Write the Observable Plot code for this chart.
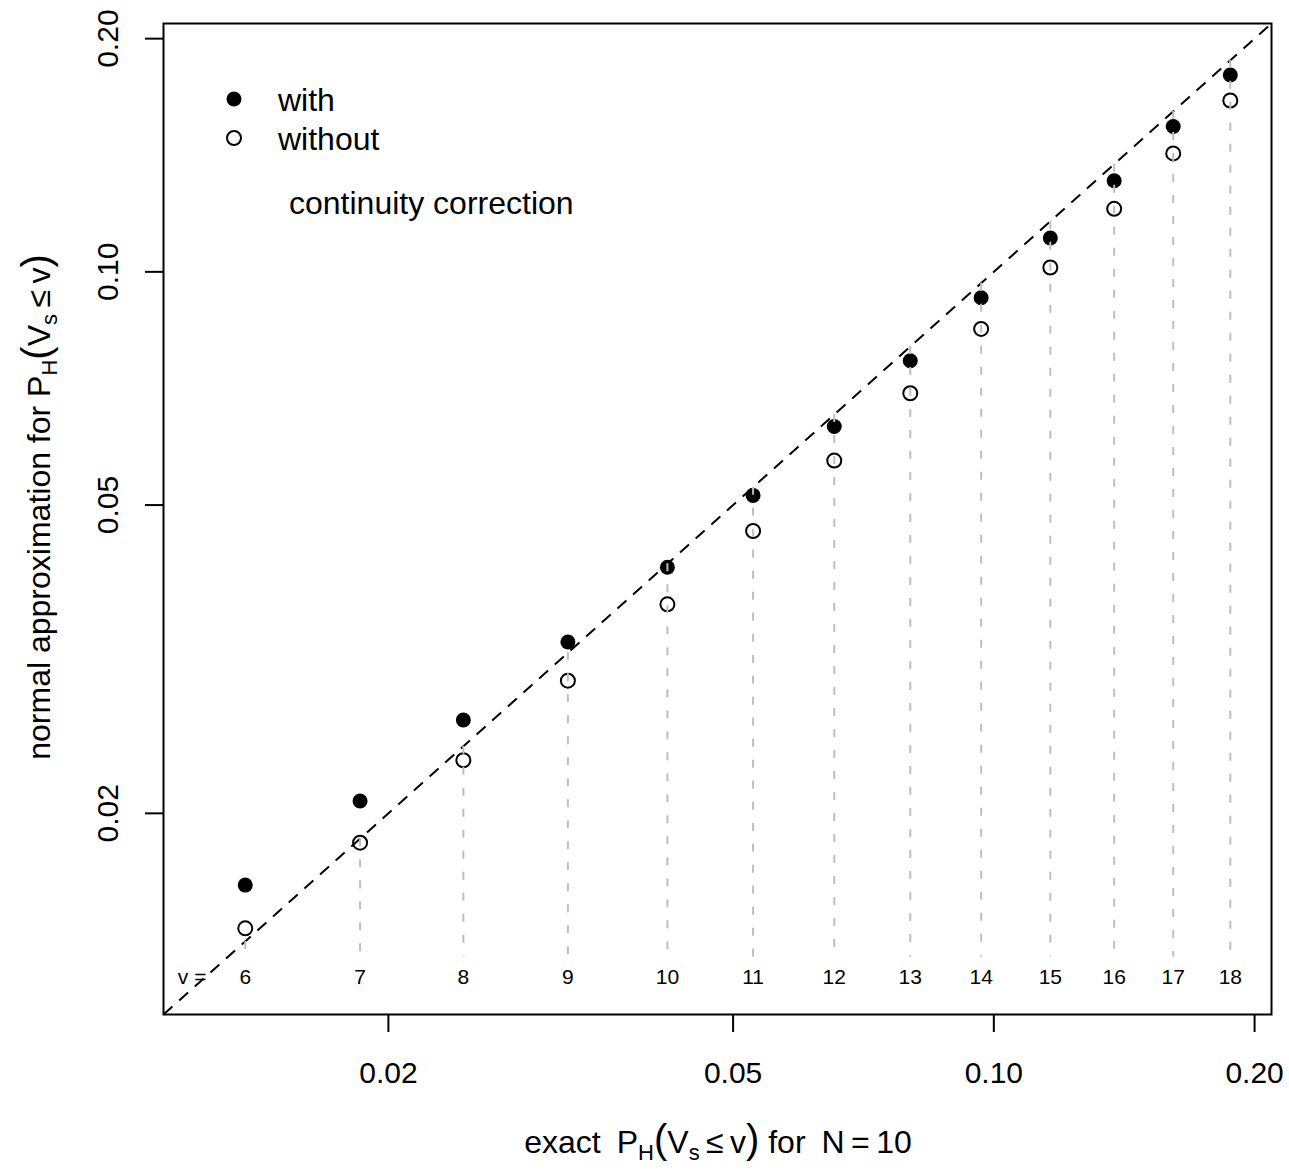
<!DOCTYPE html>
<html><head><meta charset="utf-8">
<script src="https://cdn.jsdelivr.net/npm/d3@7"></script>
<script src="https://cdn.jsdelivr.net/npm/@observablehq/plot@0.6"></script>
<style>body{margin:0;background:#fff;}</style>
</head><body><div id="chart"></div>
<script>
// data
const vValues   = [6, 7, 8, 9, 10, 11, 12, 13, 14, 15, 16, 17, 18];
const exactP    = [0.01367, 0.01855, 0.02441, 0.03223, 0.04199, 0.05273, 0.06543, 0.08008, 0.09668, 0.1162, 0.1377, 0.1611, 0.1875];
const withCC    = [0.01616, 0.02075, 0.02639, 0.03328, 0.04157, 0.05146, 0.06314, 0.07679, 0.09258, 0.1106, 0.1311, 0.1540, 0.1795];
const withoutCC = [0.01421, 0.01833, 0.02342, 0.02967, 0.03723, 0.04629, 0.05707, 0.06971, 0.08440, 0.1013, 0.1206, 0.1422, 0.1664];
const xTicks = [0.02, 0.05, 0.10, 0.20];
const yTicks = [0.02, 0.05, 0.10, 0.20];
const axisDomain = [0.0110, 0.2092];
const segBottom = 0.01305;   // lower end of the gray guide lines
const labelLevel = 0.01227;  // level of the "v =" labels
const vLabelX = 0.01187;

const rows = vValues.map((v, i) => ({v, x: exactP[i], w: withCC[i], wo: withoutCC[i]}));

const FONT = "'Liberation Sans', Arial, Helvetica, sans-serif";
const W = 1289, H = 1170;

const plot = Plot.plot({
  width: W, height: H,
  marginLeft: 163, marginRight: 18, marginTop: 23, marginBottom: 156,
  style: {fontFamily: FONT, background: "white", color: "black", overflow: "visible"},
  x: {type: "log", domain: axisDomain},
  y: {type: "log", domain: axisDomain},
  marks: [
    Plot.line(axisDomain, {x: d => d, y: d => d, stroke: "black", strokeWidth: 2, strokeDasharray: "12,9", strokeLinecap: "butt"}),
    Plot.dot(rows, {x: "x", y: "w", r: 7.5, fill: "black", stroke: null}),
    Plot.dot(rows, {x: "x", y: "wo", r: 7, fill: "none", stroke: "black", strokeWidth: 2}),
    Plot.ruleX(rows, {x: "x", y1: "x", y2: () => segBottom, stroke: "#bebebe", strokeWidth: 2, strokeDasharray: "8,13"}),
    Plot.text(rows, {x: "x", y: () => labelLevel, text: d => String(d.v), fontSize: 21, lineAnchor: "middle"}),
    Plot.text(["v ="], {x: () => vLabelX, y: () => labelLevel, text: d => d, fontSize: 21, lineAnchor: "middle"}),
    Plot.frame({stroke: "black", strokeWidth: 2}),
    Plot.axisX({ticks: xTicks, tickSize: 18, strokeWidth: 2, tickFormat: () => "", label: null}),
    Plot.axisY({ticks: yTicks, tickSize: 18, strokeWidth: 2, tickFormat: () => "", label: null}),
    Plot.text(xTicks, {x: d => d, frameAnchor: "bottom", dy: 59, text: d => d.toFixed(2), fontSize: 30, lineAnchor: "middle"}),
    Plot.text(yTicks, {y: d => d, frameAnchor: "left", dx: -55, rotate: -90, text: d => d.toFixed(2), fontSize: 30, lineAnchor: "middle", textAnchor: "middle"})
  ]
});
document.getElementById("chart").appendChild(plot);

// legend and axis titles (annotations)
const svg = d3.select(plot);
const g = svg.append("g").attr("font-family", FONT).attr("fill", "black").attr("text-anchor", "start");
g.append("circle").attr("cx", 234).attr("cy", 99).attr("r", 7.5).attr("fill", "black");
g.append("circle").attr("cx", 234).attr("cy", 138).attr("r", 7).attr("fill", "none").attr("stroke", "black").attr("stroke-width", 2);
g.append("text").attr("x", 278).attr("y", 111).attr("font-size", 32).attr("text-anchor", "start").text("with");
g.append("text").attr("x", 278).attr("y", 150).attr("font-size", 32).attr("text-anchor", "start").text("without");
g.append("text").attr("x", 289).attr("y", 214).attr("font-size", 32).attr("text-anchor", "start").text("continuity correction");

// x title
const xt = g.append("text").attr("x", 718).attr("y", 1153).attr("font-size", 32).attr("text-anchor", "middle");
xt.append("tspan").text("exact\u2002P");
xt.append("tspan").attr("font-size", 22).attr("dy", 7).text("H");
xt.append("tspan").attr("dy", -7).attr("font-size", 40).text("(");
xt.append("tspan").attr("font-size", 32).text("V");
xt.append("tspan").attr("font-size", 22).attr("dy", 7).text("s");
xt.append("tspan").attr("dy", -7).attr("font-size", 32).text("\u2009\u2264\u2009v");
xt.append("tspan").attr("font-size", 40).text(")");
xt.append("tspan").attr("font-size", 32).text(" for\u2002N\u2009=\u200910");

// y title
const yt = g.append("text").attr("transform", "translate(50,507) rotate(-90)").attr("font-size", 32).attr("text-anchor", "middle");
yt.append("tspan").text("normal approximation for P");
yt.append("tspan").attr("font-size", 22).attr("dy", 7).text("H");
yt.append("tspan").attr("dy", -7).attr("font-size", 40).text("(");
yt.append("tspan").attr("font-size", 32).text("V");
yt.append("tspan").attr("font-size", 22).attr("dy", 7).text("s");
yt.append("tspan").attr("dy", -7).attr("font-size", 32).text("\u2009\u2264\u2009v");
yt.append("tspan").attr("font-size", 40).text(")");
</script>
</body></html>
